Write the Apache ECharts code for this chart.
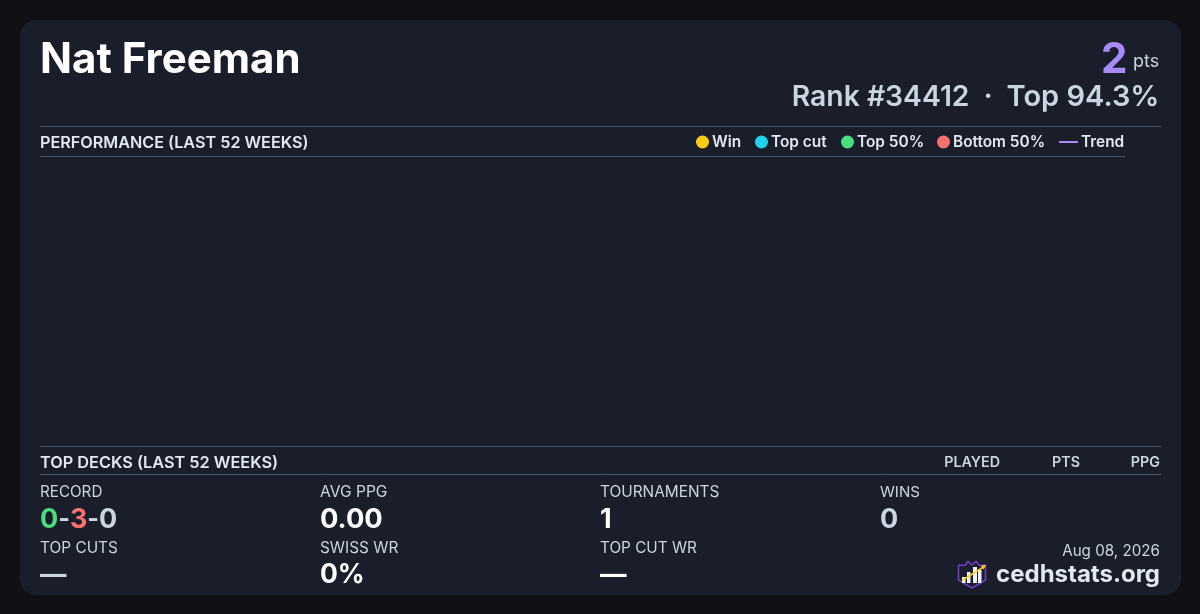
<!DOCTYPE html>
<html><head><meta charset="utf-8">
<style>html,body{margin:0;padding:0;background:#0f1115}#c{width:1200px;height:614px}</style>
<script src="https://cdn.jsdelivr.net/npm/echarts@6/dist/echarts.min.js"></script>
</head><body><div id="c"></div>
<script>
const legendNames = ['Win','Top cut','Top 50%','Bottom 50%','Trend'];
const legendColors = ['#facc15','#22d3ee','#4ade80','#f87171','#a78bfa'];
const legendLefts = [696,755,841,937,1059];
const weeks = [];
const winValues = [], topCutValues = [], top50Values = [], bottom50Values = [], trendValues = [];
const deckColumns = ['PLAYED','PTS','PPG'];
const deckColumnRights = [1000,1080,1160];
const stats = [
  ['RECORD',40,492.5,15.2],['AVG PPG',320,492.5,15.6],['TOURNAMENTS',600,492.5,15.4],['WINS',880,492.5,15.1],
  ['TOP CUTS',40,548.5,15.4],['SWISS WR',320,548.5,15.4],['TOP CUT WR',600,548.5,15.3]
];
const FONT = 'Inter';
const txt = (text,x,y,size,weight,fill,align) => ({
  type:'text', x, y, z:10,
  style:{text,fontFamily:FONT,fontSize:size,fontWeight:weight,fill,textAlign:align||'left',textVerticalAlign:'middle'}
});
const rule = (x1,x2,y) => ({type:'line',z:5,shape:{x1,y1:y+0.5,x2,y2:y+0.5},style:{stroke:'#475569',lineWidth:1}});
const poly = (points,style) => ({type:'polyline',z:11,shape:{points},style});
const bar = (x,y,w,h) => ({type:'rect',z:11,shape:{x,y,width:w,height:h},style:{fill:'#f1f5f9'}});
const logo = [
  poly([[958.5,565],[965,565.5],[968,561.5],[972,565],[976,561.5],[979.5,565.5],[985.5,565],[985.5,580],[972,588],[958.5,580],[958.5,565]],
       {stroke:'#6d3fc4',lineWidth:1.6,fill:'#1a1e2a'}),
  bar(962,577,3.5,6), bar(967,572,3.5,11), bar(973,567,4,16), bar(978,570,3.5,13),
  poly([[962,580.5],[985,566]],{stroke:'#facc15',lineWidth:1.5,fill:'none'}),
  {type:'polygon',z:12,shape:{points:[[986,565],[981,565.5],[983.5,569.5]]},style:{fill:'#facc15'}}
];
const chart = echarts.init(document.getElementById('c'),null,{renderer:'canvas'});
const seriesData = [winValues,topCutValues,top50Values,bottom50Values];
const bigStyle = c => ({fill:c,fontFamily:FONT,fontSize:27,fontWeight:700});
chart.setOption({
  animation:false,
  backgroundColor:'#0f1115',
  grid:{left:40,right:76,top:157,bottom:168},
  xAxis:{type:'category',data:weeks,show:false},
  yAxis:{type:'value',show:false},
  legend:legendNames.map((n,i)=>({
    data:[{name:n,itemStyle:{opacity:1}}],left:legendLefts[i],top:134.5,padding:0,
    itemWidth:i===4?19:13,itemHeight:i===4?2:13,
    icon:i===4?'rect':'circle',
    textStyle:{color:'#e2e8f0',fontFamily:FONT,fontSize:15.4,fontWeight:600,padding:[0,0,0,-2]},
    selectedMode:false
  })),
  series:[
    ...seriesData.map((d,i)=>({name:legendNames[i],type:'scatter',data:d,itemStyle:{color:legendColors[i],opacity:1}})),
    {name:'Trend',type:'line',data:trendValues,showSymbol:false,symbol:'rect',lineStyle:{color:legendColors[4],width:2},itemStyle:{color:legendColors[4]}}
  ],
  graphic:{elements:[
    {type:'rect',z:1,shape:{x:20,y:20,width:1161,height:575,r:16},style:{fill:'#1a1e2a'}},
    txt('Nat Freeman',40,60,42,700,'#ffffff'),
    txt('2',1127.5,60,42,700,'#a78bfa','right'),
    txt('pts',1133,62,18,400,'#cbd5e1'),
    txt('Rank #34412',969.5,97,28.3,600,'#cbd5e1','right'),
    txt('·',988,97,29,600,'#cbd5e1','center'),
    txt('Top 94.3%',1159.5,97,29,600,'#cbd5e1','right'),
    rule(40,1161,126),
    txt('PERFORMANCE (LAST 52 WEEKS)',40,143,16.2,600,'#e2e8f0'),
    rule(40,1125,156),
    rule(40,1161,446),
    txt('TOP DECKS (LAST 52 WEEKS)',40,463,16.3,600,'#e2e8f0'),
    rule(40,1161,474),
    ...deckColumns.map((c,i)=>txt(c,deckColumnRights[i],463,14.3,600,'#cbd5e1','right')),
    ...stats.map(s=>txt(s[0],s[1],s[2],s[3],400,'#cbd5e1')),
    {type:'text',z:10,x:40,y:519.5,style:{
      rich:{g:bigStyle('#4ade80'),r:bigStyle('#f87171'),n:bigStyle('#cbd5e1'),
            d:{fill:'#cbd5e1',fontFamily:FONT,fontSize:25,fontWeight:700}},
      text:'{g|0}{d|-}{r|3}{d|-}{n|0}',textVerticalAlign:'middle'}},
    txt('0.00',320,519.5,27.3,700,'#ffffff'),
    txt('1',600,519.5,27,700,'#ffffff'),
    txt('0',880,519.5,27,700,'#cbd5e1'),
    txt('—',40,575.5,26.5,700,'#cbd5e1'),
    txt('0%',320,575.5,26.5,700,'#ffffff'),
    txt('—',600,575.5,26.5,700,'#ffffff'),
    txt('Aug 08, 2026',1160,551,15.2,400,'#cbd5e1','right'),
    txt('cedhstats.org',1160,574.5,24,700,'#e2e8f0','right'),
    ...logo
  ]}
});
</script></body></html>
